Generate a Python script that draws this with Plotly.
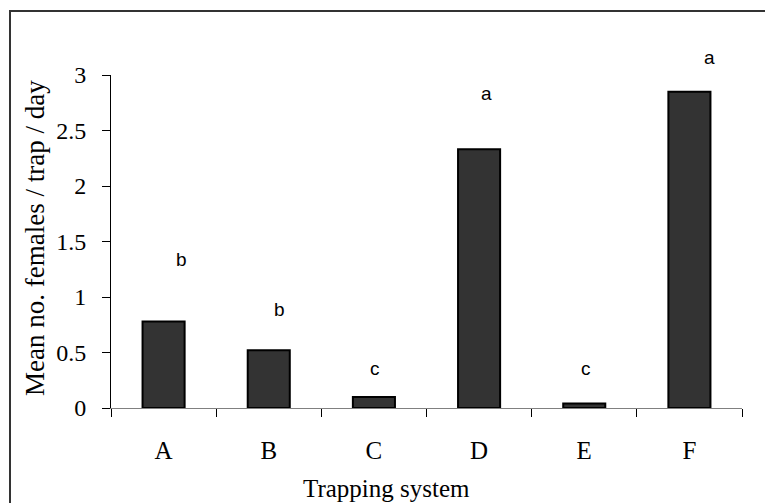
import plotly.graph_objects as go

# Trap catches per trapping system
systems = ["A", "B", "C", "D", "E", "F"]
mean_females = [0.78, 0.52, 0.10, 2.33, 0.04, 2.85]

# Significance letters and the heights at which they are printed
sig_letters = ["b", "b", "c", "a", "c", "a"]
letter_heights = [1.34, 0.89, 0.36, 2.835, 0.36, 3.16]
letter_xshift = [18, 11, 1, 7, 2, 20]

y_ticks = [0, 0.5, 1, 1.5, 2, 2.5, 3]
y_tick_text = ["0", "0.5", "1", "1.5", "2", "2.5", "3"]
y_max = 3

W, H = 765, 503
ML, MR, MT, MB = 111, 23, 75, 95
PW, PH = W - ML - MR, H - MT - MB


def px_x(p):
    return (p - ML) / PW


def px_y(p):
    return (H - MB - p) / PH


serif = "Liberation Serif"
sans = "Liberation Sans"

fig = go.Figure(
    go.Bar(
        x=systems,
        y=mean_females,
        width=0.4,
        marker=dict(color="#333333", line=dict(color="#000000", width=2)),
    )
)

n = len(systems)
annotations = [
    dict(
        x=(i + 0.5) / n, y=h / y_max, text=t, xref="paper", yref="paper",
        xanchor="center", yanchor="middle", showarrow=False,
        xshift=dx, font=dict(family=sans, size=19, color="#000"),
    )
    for i, (h, t, dx) in enumerate(zip(letter_heights, sig_letters, letter_xshift))
]
annotations.append(
    dict(
        x=px_x(386), y=px_y(488), xref="paper", yref="paper",
        xanchor="center", yanchor="middle",
        text="Trapping system", showarrow=False,
        font=dict(family=serif, size=25, color="#000"),
    )
)
annotations.append(
    dict(
        x=px_x(35), y=px_y(238), xref="paper", yref="paper",
        xanchor="center", yanchor="middle",
        text="Mean no. females / trap / day", showarrow=False, textangle=-90,
        font=dict(family=serif, size=27, color="#000"),
    )
)

fig.update_layout(
    width=W,
    height=H,
    margin=dict(l=ML, r=MR, t=MT, b=MB, pad=0),
    paper_bgcolor="white",
    plot_bgcolor="white",
    showlegend=False,
    annotations=annotations,
    font=dict(family=serif, color="#000"),
    shapes=[
        dict(
            type="rect", xref="paper", yref="paper",
            x0=px_x(10), x1=px_x(780), y0=px_y(520), y1=px_y(11),
            line=dict(color="#333333", width=2), fillcolor="rgba(0,0,0,0)",
            layer="below",
        )
    ],
    xaxis=dict(
        type="category",
        range=[-0.5, 5.5],
        showline=True, linecolor="#808080", linewidth=1,
        ticks="outside", tickson="boundaries", ticklen=8,
        tickcolor="#000", tickwidth=1,
        showgrid=False, zeroline=False,
        tickfont=dict(family=serif, size=25, color="#000"),
        ticklabelstandoff=20,
        fixedrange=True,
    ),
    yaxis=dict(
        range=[0, y_max],
        tickvals=y_ticks, ticktext=y_tick_text,
        showline=True, linecolor="#000", linewidth=1,
        ticks="outside", ticklen=8, tickcolor="#000", tickwidth=1,
        showgrid=False, zeroline=False,
        tickfont=dict(family=serif, size=24, color="#000"),
        ticklabelstandoff=11,
        fixedrange=True,
    ),
)

fig.write_html("out.html", config={"displayModeBar": False})
